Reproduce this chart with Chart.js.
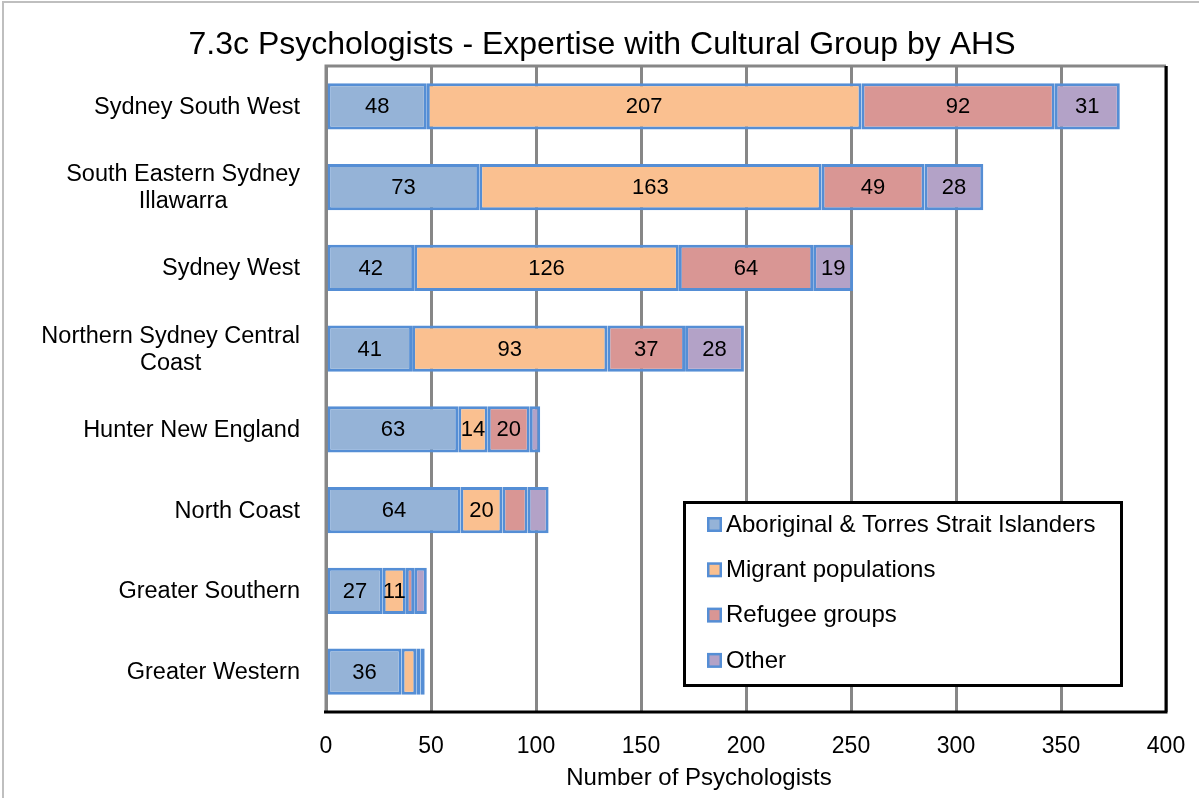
<!DOCTYPE html>
<html>
<head>
<meta charset="utf-8">
<title>7.3c Psychologists - Expertise with Cultural Group by AHS</title>
<script src="https://cdn.jsdelivr.net/npm/chart.js@4.4.1/dist/chart.umd.min.js"></script>
<style>
    html, body { margin: 0; padding: 0; background: #ffffff; }
    #wrap { width: 1199px; height: 798px; position: relative; }
</style>
</head>
<body>
<div id="wrap"><canvas id="chart" width="1199" height="798"></canvas></div>
<script>
// Chart data
const areas = [
    ['Sydney South West'],
    ['South Eastern Sydney', 'Illawarra'],
    ['Sydney West'],
    ['Northern Sydney Central', 'Coast'],
    ['Hunter New England'],
    ['North Coast'],
    ['Greater Southern'],
    ['Greater Western']
];
const seriesNames = ['Aboriginal & Torres Strait Islanders', 'Migrant populations', 'Refugee groups', 'Other'];
const aboriginal = [48, 73, 42, 41, 63, 64, 27, 36];
const migrant = [207, 163, 126, 93, 14, 20, 11, 7];
const refugee = [92, 49, 64, 37, 20, 12, 4, 2];
const other = [31, 28, 19, 28, 5, 10, 6, 2];
const xTicks = [0, 50, 100, 150, 200, 250, 300, 350, 400];

// labels the original leaves off
const labelMin = 11;
const unlabelled = { 'Refugee groups': ['North Coast'] };

const FONT = '"Liberation Sans", Arial, sans-serif';
const fills = ['#95B3D7', '#FAC090', '#D99694', '#B3A2C7'];
const edge = '#558ED5';

// Frame, category labels, value labels, axis title and boxed legend
const decorations = {
    id: 'decorations',
    beforeDraw(chart) {
        const ctx = chart.ctx;
        ctx.save();
        ctx.strokeStyle = '#bfbfbf';
        ctx.lineWidth = 2;
        ctx.strokeRect(3, 2, 1300, 900);
        ctx.restore();
    },
    afterDatasetsDraw(chart) {
        const ctx = chart.ctx;
        const area = chart.chartArea;
        const yScale = chart.scales.y;

        ctx.save();
        // value labels
        ctx.fillStyle = '#000';
        ctx.font = '22px ' + FONT;
        ctx.textAlign = 'center';
        ctx.textBaseline = 'middle';
        chart.data.datasets.forEach((ds, di) => {
            const meta = chart.getDatasetMeta(di);
            meta.data.forEach((bar, i) => {
                const v = ds.data[i];
                const skip = (unlabelled[ds.label] || []).includes(areas[i].join(' '));
                if (v < labelMin || skip) return;
                ctx.fillText(String(v), (bar.x + bar.base) / 2, bar.y + 1);
            });
        });

        // plot frame: grey top/left, black right/bottom
        ctx.lineWidth = 3;
        ctx.strokeStyle = '#878787';
        ctx.beginPath();
        ctx.moveTo(area.left, area.bottom);
        ctx.lineTo(area.left, area.top);
        ctx.lineTo(area.right, area.top);
        ctx.stroke();
        ctx.strokeStyle = '#000';
        ctx.beginPath();
        ctx.moveTo(area.right, area.top);
        ctx.lineTo(area.right, area.bottom);
        ctx.lineTo(area.left - 2, area.bottom);
        ctx.stroke();

        // category labels, lines centred within a right-aligned block
        ctx.font = '23.5px ' + FONT;
        areas.forEach((lines, i) => {
            const cy = yScale.getPixelForValue(i);
            const widths = lines.map(t => ctx.measureText(t).width);
            const blockW = Math.max(...widths);
            const right = 300;
            const lh = 27;
            lines.forEach((t, k) => {
                const y = cy + (k - (lines.length - 1) / 2) * lh;
                ctx.textAlign = 'center';
                ctx.fillText(t, right - blockW / 2, y + 1);
            });
        });

        // x axis title
        ctx.font = '24px ' + FONT;
        ctx.textAlign = 'center';
        ctx.fillText('Number of Psychologists', 699, 778);

        // legend box
        const lx = 684, ly = 502, lw = 437, lh = 183;
        ctx.fillStyle = '#fff';
        ctx.fillRect(lx, ly, lw, lh);
        ctx.lineWidth = 3;
        ctx.strokeStyle = '#000';
        ctx.strokeRect(lx + 0.5, ly + 0.5, lw, lh);
        ctx.font = '24px ' + FONT;
        ctx.textAlign = 'left';
        chart.data.datasets.forEach((ds, di) => {
            const cy = 524 + di * 45.3;
            ctx.fillStyle = edge;
            ctx.fillRect(707, cy - 7, 15, 15);
            ctx.fillStyle = ds.backgroundColor;
            ctx.fillRect(709.5, cy - 4.5, 10, 10);
            ctx.fillStyle = '#000';
            ctx.fillText(ds.label, 726, cy + 1);
        });
        ctx.restore();
    }
};

const datasets = [aboriginal, migrant, refugee, other].map((values, i) => ({
    label: seriesNames[i],
    data: values,
    backgroundColor: fills[i],
    borderColor: edge,
    borderWidth: 3,
    borderSkipped: false,
    categoryPercentage: 1,
    barPercentage: 0.57
}));

new Chart(document.getElementById('chart'), {
    type: 'bar',
    data: { labels: areas, datasets: datasets },
    options: {
        indexAxis: 'y',
        responsive: false,
        animation: false,
        events: [],
        layout: { padding: { left: 5, right: 0, top: 0, bottom: 0 } },
        plugins: {
            legend: { display: false },
            tooltip: { enabled: false },
            title: {
                display: true,
                text: '7.3c Psychologists - Expertise with Cultural Group by AHS',
                color: '#000',
                font: { family: FONT, size: 32, weight: 'normal' },
                padding: { top: 26, bottom: 1.6 }
            }
        },
        scales: {
            x: {
                stacked: true,
                min: xTicks[0],
                max: xTicks[xTicks.length - 1],
                afterBuildTicks: scale => { scale.ticks = xTicks.map(v => ({ value: v })); },
                afterFit: scale => {
                    scale.height = 86;
                    scale.paddingLeft = 0;
                    scale.paddingRight = 33;
                },
                grid: { color: '#878787', lineWidth: 3, drawTicks: false },
                border: { display: false },
                ticks: {
                    color: '#000',
                    font: { family: FONT, size: 23 },
                    padding: 21,
                    maxRotation: 0
                }
            },
            y: {
                stacked: true,
                afterFit: scale => { scale.width = 321; },
                grid: { display: false },
                border: { display: false },
                ticks: { display: false }
            }
        }
    },
    plugins: [decorations]
});
</script>
</body>
</html>
